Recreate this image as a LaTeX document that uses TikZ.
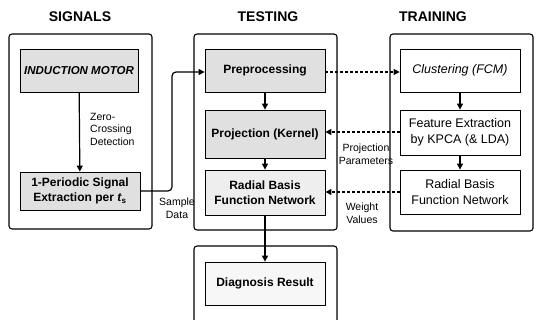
\documentclass[tikz,border=0pt]{standalone}
\usepackage{fontspec}
\setmainfont{Liberation Sans}
\usetikzlibrary{arrows.meta}
\begin{document}
\begin{tikzpicture}[x=1pt,y=-1pt,
  outer/.style={draw,line width=1.1pt,rounded corners=3pt},
  grey/.style={draw,line width=0.8pt,fill=gray!24,minimum width=120pt,inner sep=0pt,align=center,font=\fontsize{12}{15}\selectfont\bfseries},
  white/.style={draw,line width=0.8pt,fill=white,minimum width=120pt,inner sep=0pt,align=center,font=\fontsize{12.5}{16}\selectfont},
  title/.style={font=\fontsize{14}{16}\selectfont\bfseries},
  lab/.style={font=\fontsize{10.5}{12.5}\selectfont,align=center,inner sep=0pt},
  arr/.style={line width=1.2pt,-{Triangle[length=6pt,width=6pt]}},
  darr/.style={line width=1.4pt,dash pattern=on 3pt off 2pt,-{Triangle[length=6pt,width=6pt]}}]
\useasboundingbox (0,0) rectangle (537,320);
\clip (0,0) rectangle (537,320);
% titles
\node[title] (t1) at (80,17) {SIGNALS};
\node[title] (t2) at (268,17) {TESTING};
\node[title] (t3) at (433,17) {TRAINING};
% outer panels
\draw[outer] (9,34) rectangle (152,229);
\draw[outer] (194,34) rectangle (337,230);
\draw[outer] (390,34) rectangle (533,231);
\draw[outer] (194,246) rectangle (337,340);
% signals
\node[grey,minimum width=118pt,minimum height=43pt,font=\fontsize{11.5}{14}\selectfont\bfseries\itshape] (im) at (79,70.5) {INDUCTION MOTOR};
\node[grey,minimum height=38pt] (per) at (80,191) {1-Periodic Signal\\Extraction per \textit{t}\textsubscript{s}};
% testing
\node[grey,minimum height=43pt] (pre) at (265,70.5) {Preprocessing};
\node[grey,minimum height=48pt] (proj) at (265,134) {Projection (Kernel)};
\node[grey,fill=gray!13,minimum height=45pt] (rbf) at (265,192.5) {Radial Basis\\Function Network};
\node[grey,fill=gray!6,minimum height=43pt] (diag) at (265,283.5) {Diagnosis Result};
% training
\node[white,minimum height=43pt,font=\fontsize{12.5}{16}\selectfont\itshape] (clu) at (460,70.5) {Clustering (FCM)};
\node[white,minimum height=45pt] (fe) at (460,132.5) {Feature Extraction\\by KPCA (\& LDA)};
\node[white,minimum height=44pt] (rbf2) at (460,192) {Radial Basis\\Function Network};
% arrows
\draw[arr] (im) -- (per);
\draw[arr] (pre) -- (proj);
\draw[arr] (proj) -- (rbf);
\draw[arr] (rbf) -- (diag);
\draw[arr] (clu) -- (fe);
\draw[arr] (fe) -- (rbf2);
\coordinate (c1) at (172,191);
\coordinate (c2) at (172,72);
\draw[arr,rounded corners=4pt] (per.east |- c1) -- (c1) -- (c2) -- (pre.west |- c2);
\draw[darr] (pre.east |- 0,72) -- (clu.west |- 0,72);
\draw[darr] (fe.west |- 0,132) -- (proj.east |- 0,132);
\draw[darr] (rbf2.west |- 0,192) -- (rbf.east |- 0,192);
% labels
\node[lab,align=left,anchor=west] (zc) at (90,129) {Zero-\\Crossing\\Detection};
\node[lab] (sd) at (177,208) {Sample\\Data};
\node[lab] (pp) at (366,154) {Projection\\Parameters};
\node[lab] (wv) at (362,213) {Weight\\Values};
\end{tikzpicture}
\end{document}
